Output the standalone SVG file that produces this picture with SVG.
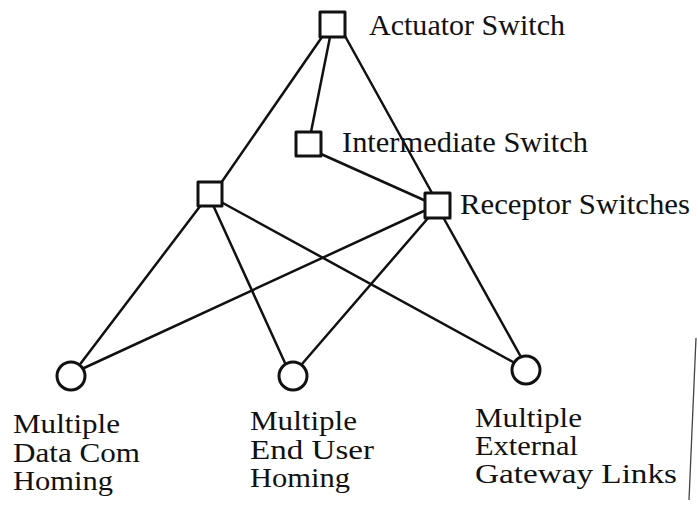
<svg xmlns="http://www.w3.org/2000/svg" width="698" height="506" viewBox="0 0 698 506">
<style>
.bg{fill:#ffffff}
.edge{stroke:#111;stroke-width:2.5;stroke-linecap:round;fill:none}
.sq{fill:#fff;stroke:#111;stroke-width:3;stroke-linejoin:round}
.ci{fill:#fff;stroke:#111;stroke-width:3}
.lbl{font-family:"Liberation Serif","Times New Roman",serif;font-size:29px;fill:#111}
.sub{font-family:"Liberation Serif","Times New Roman",serif;font-size:27px;fill:#111}
.scan{stroke:#444;stroke-width:1.3;fill:none}
</style>
<rect class="bg" x="0" y="0" width="698" height="506"/>
<g id="connectors">
<line class="edge" x1="322" y1="37" x2="221" y2="183"/>
<line class="edge" x1="330" y1="37" x2="311" y2="132"/>
<line class="edge" x1="345" y1="36" x2="432" y2="193"/>
<line class="edge" x1="321" y1="154" x2="426" y2="201"/>
<line class="edge" x1="201" y1="205" x2="81" y2="363"/>
<line class="edge" x1="213" y1="205" x2="285" y2="363"/>
<line class="edge" x1="221" y1="202" x2="513" y2="362"/>
<line class="edge" x1="426" y1="210" x2="84" y2="368"/>
<line class="edge" x1="429" y1="217" x2="302" y2="364"/>
<line class="edge" x1="443" y1="217" x2="521" y2="357"/>
</g>
<g id="actuator-switch">
<rect class="sq" x="320" y="12" width="25" height="25"/>
<text class="lbl" x="369" y="35" textLength="196" lengthAdjust="spacingAndGlyphs">Actuator Switch</text>
</g>
<g id="intermediate-switch">
<rect class="sq" x="296" y="132" width="25" height="24"/>
<text class="lbl" x="342" y="152" textLength="246" lengthAdjust="spacingAndGlyphs">Intermediate Switch</text>
</g>
<g id="switch-left">
<rect class="sq" x="198" y="182" width="24" height="24"/>
</g>
<g id="receptor-switches">
<rect class="sq" x="425" y="193" width="25" height="25"/>
<text class="lbl" x="460" y="214" textLength="230" lengthAdjust="spacingAndGlyphs">Receptor Switches</text>
</g>
<g id="data-com">
<circle class="ci" cx="71" cy="376" r="14"/>
<text class="sub" x="13" y="433" textLength="107" lengthAdjust="spacingAndGlyphs">Multiple</text>
<text class="sub" x="13" y="462" textLength="127" lengthAdjust="spacingAndGlyphs">Data Com</text>
<text class="sub" x="13" y="490" textLength="100" lengthAdjust="spacingAndGlyphs">Homing</text>
</g>
<g id="end-user">
<circle class="ci" cx="293" cy="376" r="14"/>
<text class="sub" x="250" y="430" textLength="107" lengthAdjust="spacingAndGlyphs">Multiple</text>
<text class="sub" x="250" y="459" textLength="124" lengthAdjust="spacingAndGlyphs">End User</text>
<text class="sub" x="250" y="487" textLength="100" lengthAdjust="spacingAndGlyphs">Homing</text>
</g>
<g id="external-gateway">
<circle class="ci" cx="526" cy="370" r="14"/>
<text class="sub" x="475" y="427" textLength="107" lengthAdjust="spacingAndGlyphs">Multiple</text>
<text class="sub" x="475" y="455" textLength="103" lengthAdjust="spacingAndGlyphs">External</text>
<text class="sub" x="475" y="483" textLength="202" lengthAdjust="spacingAndGlyphs">Gateway Links</text>
</g>
<line class="scan" x1="696" y1="338" x2="689" y2="500"/>
</svg>
